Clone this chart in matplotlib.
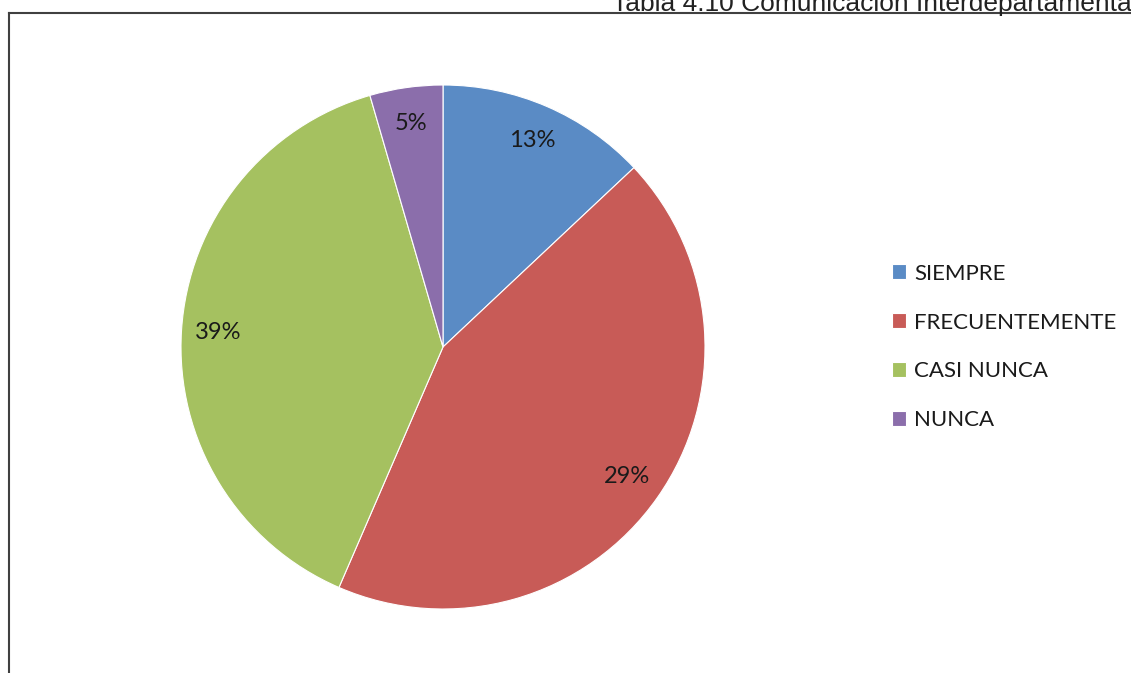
import matplotlib.pyplot as plt
from matplotlib.lines import Line2D

# slice sizes as drawn, and the percentage texts printed on them
categories = ["SIEMPRE", "FRECUENTEMENTE", "CASI NUNCA", "NUNCA"]
sizes = [13, 43.5, 39, 4.5]
pct_labels = ["13%", "29%", "39%", "5%"]
colors = ["#5A8BC5", "#C85B57", "#A5C160", "#8B6EAB"]
title = "Tabla 4.10 Comunicación Interdepartamental"

W, H = 1131, 673
fig = plt.figure(figsize=(W / 100, H / 100), dpi=100)

# pie axes: center (443, 347) px, radius 262 px
cx, cy, r = 443, 347, 262
ax = fig.add_axes([(cx - r) / W, (H - cy - r) / H, 2 * r / W, 2 * r / H])
wedges, texts = ax.pie(sizes, colors=colors, startangle=90, counterclock=False,
                       labels=pct_labels, labeldistance=0.86,
                       wedgeprops=dict(edgecolor="white", linewidth=0.8),
                       textprops=dict(fontsize=17, family="Lato", color="#1a1a1a"))
for t in texts:
    t.set_ha("center")
    t.set_va("center")
ax.set_xlim(-1, 1)
ax.set_ylim(-1, 1)
ax.axis("off")

leg = fig.legend(wedges, categories, loc="center left",
                 bbox_to_anchor=(872 / W, 1 - 347 / H), frameon=False,
                 handlelength=0.65, handleheight=0.65, handletextpad=0.35,
                 labelspacing=1.3, prop=dict(family="Lato", size=16))
for txt in leg.get_texts():
    txt.set_color("#1a1a1a")

# frame lines of the original page
fig.add_artist(Line2D([8.5 / W, 1], [1 - 12.5 / H] * 2, transform=fig.transFigure,
                      color="#404040", linewidth=1.5))
fig.add_artist(Line2D([8.5 / W] * 2, [0, 1 - 12.5 / H], transform=fig.transFigure,
                      color="#404040", linewidth=1.5))

fig.text(612 / W, 1 - 11 / H, title, ha="left", va="baseline",
         fontsize=19, family="Liberation Sans", color="#222222")

fig.savefig("out.png", dpi=100)
